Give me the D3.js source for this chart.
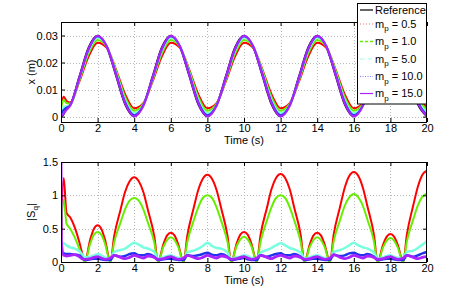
<!DOCTYPE html>
<html><head><meta charset="utf-8">
<script src="https://cdn.jsdelivr.net/npm/d3@7"></script>
<style>
html,body{margin:0;padding:0;background:#fff;}
svg{display:block;font-family:"Liberation Sans",Arial,Helvetica,sans-serif;}
</style></head><body>
<svg id="chart" width="471" height="294"></svg>
<script>
// ---------- data ----------
const xTicks = [0,2,4,6,8,10,12,14,16,18,20];
const posTicks = [0,0.01,0.02,0.03];
const sqTicks = [0,0.5,1,1.5];
const seriesNames = ["Reference","0.5","1.0","5.0","10.0","15.0"];

const timeX = [0,0.15,0.3,0.5,1,1.5,2,2.5,3,3.5,4,4.5,5,5.5,6,6.5,7,7.5,8,8.5,9,9.5,10,10.5,11,11.5,12,12.5,13,13.5,14,14.5,15,15.5,16,16.5,17,17.5,18,18.5,19,19.5,20];
const xRef = [0,0.0008,0.0033,0.0044, 0.015,0.0256,0.030,0.0256,0.015,0.0044,
  0,0.0044,0.015,0.0256,0.030,0.0256,0.015,0.0044,
  0,0.0044,0.015,0.0256,0.030,0.0256,0.015,0.0044,
  0,0.0044,0.015,0.0256,0.030,0.0256,0.015,0.0044,
  0,0.0044,0.015,0.0256,0.030,0.0256,0.015,0.0044, 0];
const xM05 = [0.0040,0.0073,0.0058,0.0052, 0.0129,0.0221,0.0273,0.0254,0.0175,0.0083,
  0.0031,0.0050,0.0129,0.0221,0.0273,0.0254,0.0175,0.0083,
  0.0031,0.0050,0.0129,0.0221,0.0273,0.0254,0.0175,0.0083,
  0.0031,0.0050,0.0129,0.0221,0.0273,0.0254,0.0175,0.0083,
  0.0031,0.0050,0.0129,0.0221,0.0273,0.0254,0.0175,0.0083, 0.0031];
const xM1 = [0.0030,0.0062,0.0050,0.0048, 0.0134,0.0232,0.0283,0.0258,0.0171,0.0073,
  0.0022,0.0047,0.0134,0.0232,0.0283,0.0258,0.0171,0.0073,
  0.0022,0.0047,0.0134,0.0232,0.0283,0.0258,0.0171,0.0073,
  0.0022,0.0047,0.0134,0.0232,0.0283,0.0258,0.0171,0.0073,
  0.0022,0.0047,0.0134,0.0232,0.0283,0.0258,0.0171,0.0073, 0.0022];
const xM5 = [0.0020,0.0035,0.0038,0.0043, 0.0139,0.0242,0.0292,0.0261,0.0165,0.0062,
  0.0012,0.0043,0.0139,0.0242,0.0292,0.0261,0.0165,0.0062,
  0.0012,0.0043,0.0139,0.0242,0.0292,0.0261,0.0165,0.0062,
  0.0012,0.0043,0.0139,0.0242,0.0292,0.0261,0.0165,0.0062,
  0.0012,0.0043,0.0139,0.0242,0.0292,0.0261,0.0165,0.0062, 0.0012];
const xM10 = [0.0010,0.0025,0.0033,0.0042, 0.0142,0.0248,0.0297,0.0260,0.0160,0.0054,
  0.0005,0.0042,0.0142,0.0248,0.0297,0.0260,0.0160,0.0054,
  0.0005,0.0042,0.0142,0.0248,0.0297,0.0260,0.0160,0.0054,
  0.0005,0.0042,0.0142,0.0248,0.0297,0.0260,0.0160,0.0054,
  0.0005,0.0042,0.0142,0.0248,0.0297,0.0260,0.0160,0.0054, 0.0005];
const xM15 = [0.0000,0.0012,0.0025,0.0040, 0.0143,0.0250,0.0299,0.0260,0.0157,0.0050,
  0.0001,0.0040,0.0143,0.0250,0.0299,0.0260,0.0157,0.0050,
  0.0001,0.0040,0.0143,0.0250,0.0299,0.0260,0.0157,0.0050,
  0.0001,0.0040,0.0143,0.0250,0.0299,0.0260,0.0157,0.0050,
  0.0001,0.0040,0.0143,0.0250,0.0299,0.0260,0.0157,0.0050, 0.0001];

const timeS = [0,0.02,0.15,0.3,0.5,0.75,1.0,1.15,
  1.3,1.6,1.8,2.0,2.2,2.4,2.7,2.9,3.25,3.5,3.75,4.0,4.25,4.5,4.75,5.1,
  5.3,5.6,5.8,6.0,6.2,6.4,6.7,6.9,7.25,7.5,7.75,8.0,8.25,8.5,8.75,9.1,
  9.3,9.6,9.8,10.0,10.2,10.4,10.7,10.9,11.25,11.5,11.75,12.0,12.25,12.5,12.75,13.1,
  13.3,13.6,13.8,14.0,14.2,14.4,14.7,14.9,15.25,15.5,15.75,16.0,16.25,16.5,16.75,17.1,
  17.3,17.6,17.8,18.0,18.2,18.4,18.7,18.9,19.25,19.5,19.75,20.0];
const sM05 = [0.0,0.4,1.26,0.74,0.67,0.52,0.30,0.14,
  0,0.34,0.50,0.55,0.50,0.34, 0,0.38,0.78,1.05,1.21,1.27,1.21,1.05,0.78,0.38,
  0,0.27,0.40,0.44,0.40,0.27, 0,0.39,0.81,1.08,1.25,1.31,1.25,1.08,0.81,0.39,
  0,0.28,0.41,0.45,0.41,0.28, 0,0.40,0.81,1.09,1.26,1.32,1.26,1.09,0.81,0.40,
  0,0.27,0.40,0.44,0.40,0.27, 0,0.41,0.83,1.11,1.29,1.35,1.29,1.11,0.83,0.41,
  0,0.26,0.38,0.42,0.38,0.26, 0,0.41,0.85,1.13,1.31,1.37];
const sM1 = [0.0,0.5,0.93,0.58,0.50,0.37,0.20,0.08,
  0,0.28,0.41,0.45,0.41,0.28, 0,0.29,0.59,0.79,0.92,0.96,0.92,0.79,0.59,0.29,
  0,0.23,0.33,0.37,0.33,0.23, 0,0.30,0.62,0.82,0.96,1.00,0.96,0.82,0.62,0.30,
  0,0.24,0.34,0.38,0.34,0.24, 0,0.30,0.62,0.82,0.96,1.00,0.96,0.82,0.62,0.30,
  0,0.23,0.33,0.37,0.33,0.23, 0,0.31,0.63,0.84,0.97,1.02,0.97,0.84,0.63,0.31,
  0,0.22,0.32,0.36,0.32,0.22, 0,0.31,0.64,0.85,0.98,1.03];
const sM5 = [0.35,0.30,0.28,0.25,0.22,0.20,0.16,0.12,
  0.07,0.08,0.10,0.12,0.10,0.07, 0.05,0.15,0.18,0.20,0.25,0.29,0.26,0.22,0.20,0.15,
  0.05,0.07,0.09,0.10,0.08,0.06, 0.05,0.14,0.17,0.20,0.24,0.29,0.24,0.21,0.20,0.14,
  0.05,0.07,0.08,0.10,0.09,0.06, 0.05,0.14,0.18,0.21,0.25,0.28,0.25,0.21,0.19,0.14,
  0.05,0.07,0.09,0.10,0.08,0.06, 0.05,0.15,0.18,0.21,0.25,0.29,0.25,0.22,0.20,0.14,
  0.05,0.07,0.09,0.10,0.08,0.06, 0.05,0.15,0.17,0.21,0.26,0.31];
const sM10 = [0.15,0.14,0.13,0.12,0.12,0.11,0.10,0.06,
  0.03,0.04,0.05,0.05,0.04,0.03, 0.03,0.10,0.08,0.09,0.12,0.13,0.10,0.10,0.12,0.08,
  0.03,0.04,0.05,0.05,0.04,0.03, 0.03,0.10,0.09,0.10,0.12,0.14,0.11,0.10,0.12,0.08,
  0.03,0.04,0.05,0.06,0.04,0.03, 0.03,0.10,0.08,0.10,0.12,0.13,0.10,0.10,0.12,0.08,
  0.03,0.04,0.05,0.05,0.04,0.03, 0.03,0.11,0.09,0.10,0.13,0.14,0.11,0.10,0.12,0.08,
  0.03,0.04,0.05,0.05,0.04,0.03, 0.03,0.10,0.08,0.10,0.13,0.15];
const sM15 = [1.50,0.30,0.10,0.09,0.10,0.11,0.08,0.05,
  0.04,0.05,0.07,0.08,0.06,0.04, 0.06,0.10,0.07,0.05,0.07,0.10,0.08,0.06,0.09,0.07,
  0.04,0.05,0.07,0.08,0.06,0.04, 0.06,0.10,0.07,0.05,0.07,0.10,0.08,0.06,0.09,0.07,
  0.04,0.05,0.07,0.08,0.06,0.04, 0.06,0.10,0.07,0.05,0.08,0.10,0.08,0.06,0.09,0.07,
  0.04,0.05,0.07,0.08,0.06,0.04, 0.06,0.11,0.07,0.05,0.07,0.10,0.08,0.06,0.09,0.07,
  0.04,0.05,0.07,0.08,0.06,0.04, 0.06,0.10,0.07,0.05,0.07,0.08];

// ---------- styles ----------
const colors = ["#000000","#ff0000","#66ee00","#77ffe0","#2233ee","#aa22ff"];
const legendDash = [null,"1,2","3,2","4,1.5,1,1.5","1,1.5",null];
const legendOpacity = [1,0.6,1,0.7,0.6,1];

const svg = d3.select("#chart");
const FONT = 11;
const xLeft = 61, xRight = 427;
const x = d3.scaleLinear().domain([0,20]).range([xLeft,xRight]);

function panel(id, top, bottom, yDomain, yTicks, times, series, widths, ylabelFn){
  const y = d3.scaleLinear().domain(yDomain).range([bottom, top]);
  const g = svg.append("g");
  const grid = g.append("g").attr("stroke","#b8b8b8").attr("stroke-dasharray","1,2").attr("stroke-width",1);
  xTicks.forEach(t=>{ if(t>0 && t<20) grid.append("line").attr("x1",Math.round(x(t))+0.5).attr("x2",Math.round(x(t))+0.5).attr("y1",top).attr("y2",bottom); });
  yTicks.forEach(t=>{ const yy=Math.round(y(t))+0.5; if(yy>top+1 && yy<bottom-1) grid.append("line").attr("x1",xLeft).attr("x2",xRight).attr("y1",yy).attr("y2",yy); });
  svg.append("clipPath").attr("id",id).append("rect").attr("x",xLeft).attr("y",top).attr("width",xRight-xLeft).attr("height",bottom-top+1);
  const line = d3.line().x((d,i)=>x(times[i])).y(d=>y(d)).curve(d3.curveMonotoneX);
  const lg = g.append("g").attr("clip-path",`url(#${id})`);
  series.forEach((s,i)=>{
    if(!s) return;
    lg.append("path").attr("d",line(s)).attr("fill","none").attr("stroke",colors[i])
      .attr("stroke-width",widths[i]).attr("stroke-linejoin","round").attr("stroke-linecap","round");
  });
  const ax = d3.axisBottom(x).tickValues(xTicks).tickSize(-4).tickPadding(2.5).tickFormat(d3.format("~g"));
  const axB = g.append("g").attr("transform",`translate(0,${bottom})`).call(ax);
  const axT = g.append("g").attr("transform",`translate(0,${top})`).call(d3.axisTop(x).tickValues(xTicks).tickSize(-4).tickFormat(""));
  const ay = d3.axisLeft(y).tickValues(yTicks).tickSize(-4).tickPadding(3).tickFormat(d3.format("~g"));
  const axL = g.append("g").attr("transform",`translate(${xLeft},0)`).call(ay);
  const axR = g.append("g").attr("transform",`translate(${xRight},0)`).call(d3.axisRight(y).tickValues(yTicks).tickSize(-4).tickFormat(""));
  [axB,axT,axL,axR].forEach(a=>{
    a.select(".domain").remove();
    a.selectAll("line").attr("stroke","#000");
    a.selectAll("text").attr("font-size",FONT).attr("fill","#000");
    a.attr("font-family",null);
  });
  g.append("rect").attr("x",xLeft+0.5).attr("y",top+0.5).attr("width",xRight-xLeft-1).attr("height",bottom-top)
    .attr("fill","none").attr("stroke","#000").attr("stroke-width",1);
  g.append("text").attr("x",(xLeft+xRight)/2).attr("y",bottom+22).attr("text-anchor","middle")
    .attr("font-size",FONT).text("Time (s)");
  const yl = g.append("text").attr("transform",`translate(35,${(top+bottom)/2}) rotate(-90)`).attr("text-anchor","middle").attr("font-size",FONT);
  ylabelFn(yl);
}

panel("clipA", 22, 122, [-0.002,0.035], posTicks, timeX,
  [xRef,xM05,xM1,xM5,xM10,xM15], [1.5,2,2,2,2,2.2],
  t=>t.text("x (m)"));
panel("clipB", 162, 262, [0,1.5], sqTicks, timeS,
  [null,sM05,sM1,sM5,sM10,sM15], [1.5,2,2,2.5,2.5,2.8],
  t=>{ t.append("tspan").text("|S"); t.append("tspan").attr("dy",3).attr("font-size",8).text("q"); t.append("tspan").attr("dy",-3).text("|"); });

// ---------- legend ----------
const L = svg.append("g");
L.append("rect").attr("x",357.5).attr("y",3.5).attr("width",69).attr("height",100.5)
  .attr("fill","#fff").attr("stroke","#000").attr("stroke-width",1);
const ly = [10,24,41.5,59,76.5,93.5];
seriesNames.forEach((n,i)=>{
  L.append("line").attr("x1",360).attr("x2",373).attr("y1",ly[i]).attr("y2",ly[i])
    .attr("stroke",colors[i]).attr("stroke-width",i===2?1.5:1.2).attr("stroke-opacity",legendOpacity[i])
    .attr("stroke-dasharray",legendDash[i]);
  const t = L.append("text").attr("x",375).attr("y",ly[i]+3.8).attr("font-size",FONT);
  if(i===0){ t.text(n); }
  else {
    t.append("tspan").text("m");
    t.append("tspan").attr("dy",3.5).attr("font-size",8).text("p");
    t.append("tspan").attr("dy",-3.5).text(" = "+n);
  }
});
</script>
</body></html>
